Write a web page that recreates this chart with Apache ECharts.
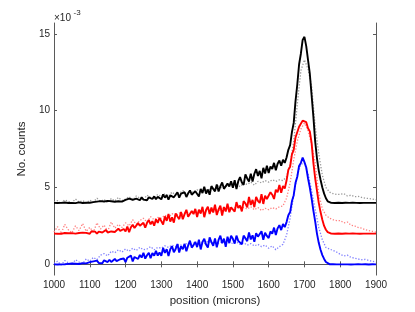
<!DOCTYPE html>
<html>
<head>
<meta charset="utf-8">
<script src="https://cdn.jsdelivr.net/npm/echarts@6/dist/echarts.min.js"></script>
<style>
html,body{margin:0;padding:0;background:#fff;}
#chart{width:415px;height:312px;}
</style>
</head>
<body>
<div id="chart"></div>
<script>
// x grid of the solid traces: 1000..1900 step 5 ; dotted traces: step 10
const solidStart = 1000, solidStep = 5;
const dotStart = 1000, dotStep = 10;
const xTicks = [1000,1100,1200,1300,1400,1500,1600,1700,1800,1900];
const yTicks = [0,5,10,15];

// values in units of 1e-3
const blackSolid = [
4.00,4.02,3.99,4.01,4.00,3.98,4.02,4.01,3.99,4.03,4.00,4.01,3.98,4.02,4.03,4.00,3.99,4.02,4.01,4.03,
4.01,4.08,4.05,4.00,4.08,4.05,4.11,4.03,4.09,4.06,4.13,4.03,4.10,4.13,4.07,4.17,4.10,4.14,4.08,4.16,
4.19,4.09,4.27,4.16,4.20,4.09,4.28,4.24,4.17,4.36,4.21,4.31,4.17,4.36,4.29,4.25,4.42,4.24,4.39,4.33,
4.23,4.55,4.34,4.50,4.21,4.49,4.60,4.36,4.49,4.69,4.34,4.60,4.47,4.69,4.38,4.62,4.81,4.53,4.62,4.76,
4.77,4.41,4.91,4.64,5.05,4.60,4.86,4.53,5.09,4.91,4.75,5.20,4.74,5.07,5.33,4.91,4.81,5.26,5.07,5.40,
4.98,5.48,4.90,5.41,5.67,5.33,5.17,5.85,5.59,5.39,5.90,5.39,5.89,6.19,5.75,6.08,5.60,6.28,5.91,6.42,
5.94,6.36,6.21,6.60,6.12,6.54,6.75,6.42,6.81,6.60,
6.95,7.45,7.75,8.60,9.20,10.6,11.7,13.0,13.7,14.6,14.8,14.2,13.3,12.4,11.0,9.6,8.0,6.9,6.1,5.5,5.0,4.6,4.3,4.1,4.02,
4.00,4.01,3.99,4.00,4.01,4.00,3.99,4.00,4.01,4.00,4.00,3.99,4.01,4.00,4.00,4.01,3.99,4.00,4.00,4.01,4.00,3.99,4.00,4.01,4.00,4.00
];
const redSolid = [
2.00,2.03,1.99,2.02,1.98,2.01,2.04,2.00,2.02,1.99,2.03,2.05,2.00,2.02,2.04,2.01,2.06,2.02,2.05,2.03,
1.99,2.15,2.05,2.13,1.99,2.13,2.19,2.07,2.14,2.24,2.07,2.20,2.14,2.25,2.10,2.22,2.32,2.18,2.23,2.30,
2.14,2.46,2.09,2.41,2.57,2.36,2.25,2.68,2.51,2.39,2.70,2.38,2.70,2.88,2.60,2.81,2.51,2.94,2.70,3.02,
2.98,2.59,3.12,2.83,3.27,2.78,3.06,2.71,3.31,3.11,2.94,3.41,2.93,3.27,3.55,3.10,2.99,3.47,3.27,3.61,
3.08,3.56,3.30,3.74,3.07,3.54,3.74,3.27,3.70,3.37,3.88,3.21,3.57,3.81,3.18,3.73,3.44,3.95,3.39,3.71,
3.78,3.43,4.05,3.67,3.83,3.44,4.11,3.97,3.71,4.38,3.86,4.19,3.72,4.39,4.13,3.99,4.57,3.93,4.47,4.25,
4.17,4.69,4.53,4.25,4.85,4.69,5.17,4.65,5.09,4.93,
5.45,6.15,6.35,7.15,7.45,8.25,8.35,8.95,8.90,9.35,9.30,9.25,8.85,8.65,7.90,6.60,5.60,4.80,4.00,3.40,2.90,2.50,2.25,2.10,2.03,
2.00,2.01,1.99,2.00,2.01,2.00,1.99,2.00,2.01,2.00,2.00,1.99,2.01,2.00,2.00,2.01,1.99,2.00,2.00,2.01,2.00,1.99,2.00,2.01,2.00,2.00
];
const blueSolid = [
0.00,0.03,-0.01,0.02,0.00,0.04,0.01,-0.02,0.03,0.02,0.05,0.01,0.04,0.06,0.02,0.05,0.08,0.03,0.06,0.09,
0.14,0.02,0.19,0.10,0.24,0.09,0.18,0.07,0.26,0.20,0.15,0.30,0.15,0.26,0.35,0.21,0.18,0.33,0.27,0.38,
0.15,0.43,0.30,0.57,0.19,0.48,0.61,0.35,0.61,0.44,0.75,0.37,0.59,0.75,0.40,0.73,0.57,0.88,0.57,0.77,
0.56,1.07,0.74,0.99,0.54,0.98,1.17,0.78,1.00,1.32,0.77,1.18,0.98,1.33,0.85,1.23,1.54,1.09,1.25,1.46,
1.12,1.60,0.97,1.45,1.67,1.29,1.09,1.75,1.44,1.20,1.68,1.11,1.59,1.86,1.37,1.67,1.14,1.80,1.38,1.86,
1.66,1.35,1.87,1.53,1.66,1.31,1.87,1.74,1.51,2.07,1.62,1.89,1.47,2.03,1.80,1.67,2.15,1.60,2.05,1.85,
1.71,2.14,1.99,2.39,1.91,2.34,2.55,2.23,2.62,2.42,
2.75,3.20,3.40,4.10,4.50,5.30,5.70,6.40,6.60,6.95,6.65,6.30,5.60,5.00,4.30,3.50,2.80,2.00,1.40,0.95,0.60,0.35,0.15,0.05,0.01,
0.00,0.01,-0.01,0.00,0.01,0.00,-0.01,0.00,0.01,0.00,0.00,-0.01,0.01,0.00,0.00,0.01,-0.01,0.00,0.00,0.01,0.00,-0.01,0.00,0.01,0.00,0.00
];
const blackDotted = [
4.05,4.15,3.95,4.20,4.10,4.00,4.25,4.05,4.15,3.98,
4.18,4.05,4.30,4.10,4.22,4.00,4.28,4.12,4.35,4.15,
4.25,4.40,4.18,4.45,4.30,4.20,4.50,4.35,4.28,4.55,
4.40,4.60,4.45,4.70,4.50,4.62,4.80,4.55,4.75,4.68,
4.85,4.70,4.95,4.80,5.00,4.88,5.10,4.95,5.05,5.15,
5.10,5.25,5.05,5.30,5.20,5.35,5.15,5.40,5.30,5.45,
5.35,5.50,5.40,5.50,5.45,5.70,6.50,8.00,10.4,12.6,
13.3,12.7,11.6,9.00,7.20,5.80,5.00,4.70,4.60,4.55,
4.55,4.60,4.45,4.50,4.40,4.42,4.35,4.30,4.28,4.25,
4.20
];
const redDotted = [
2.10,2.45,2.00,2.60,2.25,2.05,2.50,2.20,2.65,2.15,
2.40,2.10,2.70,2.30,2.55,2.15,2.75,2.35,2.60,2.40,
2.70,2.50,2.90,2.60,2.85,3.00,2.75,3.10,2.90,3.05,
3.00,3.20,3.05,3.30,3.15,3.35,3.25,3.40,3.30,3.45,
3.35,3.50,3.40,3.55,3.45,3.60,3.50,3.65,3.55,3.70,
3.60,3.75,3.65,3.70,3.60,3.75,3.55,3.70,3.50,3.65,
3.55,3.70,3.60,3.75,3.80,4.30,5.30,6.80,8.00,8.80,
9.20,8.70,7.80,6.60,4.60,3.60,3.20,3.00,2.90,2.85,
2.85,2.70,2.75,2.55,2.50,2.40,2.35,2.25,2.20,2.15,
2.10
];
const blueDotted = [
0.05,0.20,-0.05,0.25,0.10,0.00,0.30,0.15,0.05,0.35,
0.20,0.45,0.30,0.60,0.70,0.55,0.85,0.75,0.95,0.80,
1.00,0.85,1.05,0.90,1.10,0.95,1.00,1.15,0.95,1.10,
1.05,1.20,1.10,1.25,1.15,1.30,1.20,1.35,1.25,1.40,
1.30,1.45,1.35,1.50,1.40,1.45,1.35,1.50,1.40,1.45,
1.35,1.45,1.30,1.40,1.25,1.35,1.20,1.30,1.15,1.25,
1.05,1.20,0.95,1.15,1.30,1.90,3.00,4.50,5.80,6.50,
6.60,5.90,4.80,3.60,2.40,1.60,1.10,1.00,0.90,0.80,
0.65,0.55,0.60,0.45,0.40,0.35,0.30,0.32,0.25,0.20,
0.15
];

function pairs(arr, start, step){ return arr.map((v,i)=>[start+i*step, v]); }

const chart = echarts.init(document.getElementById('chart'), null, {renderer:'canvas'});
const FONT = 'Liberation Sans, Arial, Helvetica, sans-serif';
const AX = '#5a5a5a';
const TXT = '#262626';

function dotted(arr, color){
  return {type:'line', xAxisIndex:0, yAxisIndex:0, data:pairs(arr, dotStart, dotStep),
    showSymbol:false, silent:true, animation:false,
    lineStyle:{color:color, width:1.3, type:[1.3,1.7]}};
}
function solid(arr, color){
  return {type:'line', xAxisIndex:0, yAxisIndex:0, data:pairs(arr, solidStart, solidStep),
    showSymbol:false, silent:true, animation:false,
    lineStyle:{color:color, width:1.9}};
}

const option = {
  backgroundColor:'#fff',
  animation:false,
  grid:{left:54, right:39, top:23, bottom:35, containLabel:false},
  xAxis:[
    {type:'value', position:'bottom', min:1000, max:1900, interval:100,
     axisLine:{show:true, lineStyle:{color:AX, width:1}},
     axisTick:{show:true, inside:true, length:3, lineStyle:{color:AX}},
     axisLabel:{show:true, color:TXT, fontSize:10, fontFamily:FONT, margin:5,
       customValues:xTicks, formatter:v=>String(v)},
     splitLine:{show:false},
     name:'position (microns)', nameLocation:'middle', nameGap:12,
     nameTextStyle:{color:TXT, fontSize:11.5, fontFamily:FONT}},
    {type:'value', position:'top', min:1000, max:1900, interval:100,
     axisLine:{show:true, lineStyle:{color:AX, width:1}},
     axisTick:{show:true, inside:true, length:3, lineStyle:{color:AX}},
     axisLabel:{show:false}, splitLine:{show:false}}
  ],
  yAxis:[
    {type:'value', position:'left', min:-0.7, max:15.7,
     axisLine:{show:true, lineStyle:{color:AX, width:1}},
     axisTick:{show:true, inside:true, length:3, lineStyle:{color:AX}, customValues:yTicks},
     axisLabel:{show:true, color:TXT, fontSize:10, fontFamily:FONT, margin:4,
       customValues:yTicks, formatter:v=>String(v)},
     splitLine:{show:false},
     name:'No. counts', nameLocation:'middle', nameGap:18, nameRotate:90,
     nameTextStyle:{color:TXT, fontSize:11.5, fontFamily:FONT}},
    {type:'value', position:'right', min:-0.7, max:15.7,
     axisLine:{show:true, lineStyle:{color:AX, width:1}},
     axisTick:{show:true, inside:true, length:3, lineStyle:{color:AX}, customValues:yTicks},
     axisLabel:{show:false}, splitLine:{show:false}}
  ],
  graphic:[
    {type:'text', x:54, y:18.5, silent:true,
     style:{text:'×10', fill:TXT, font:'10px '+FONT, verticalAlign:'middle', align:'left'}},
    {type:'text', x:73.5, y:13, silent:true,
     style:{text:'-3', fill:TXT, font:'8px '+FONT, verticalAlign:'middle', align:'left'}}
  ],
  series:[
    dotted(blackDotted, '#9a9a9a'),
    dotted(redDotted, '#ff8080'),
    dotted(blueDotted, '#8080ff'),
    solid(blackSolid, '#000000'),
    solid(redSolid, '#ff0000'),
    solid(blueSolid, '#0000ff')
  ]
};
chart.setOption(option);
</script>
</body>
</html>
